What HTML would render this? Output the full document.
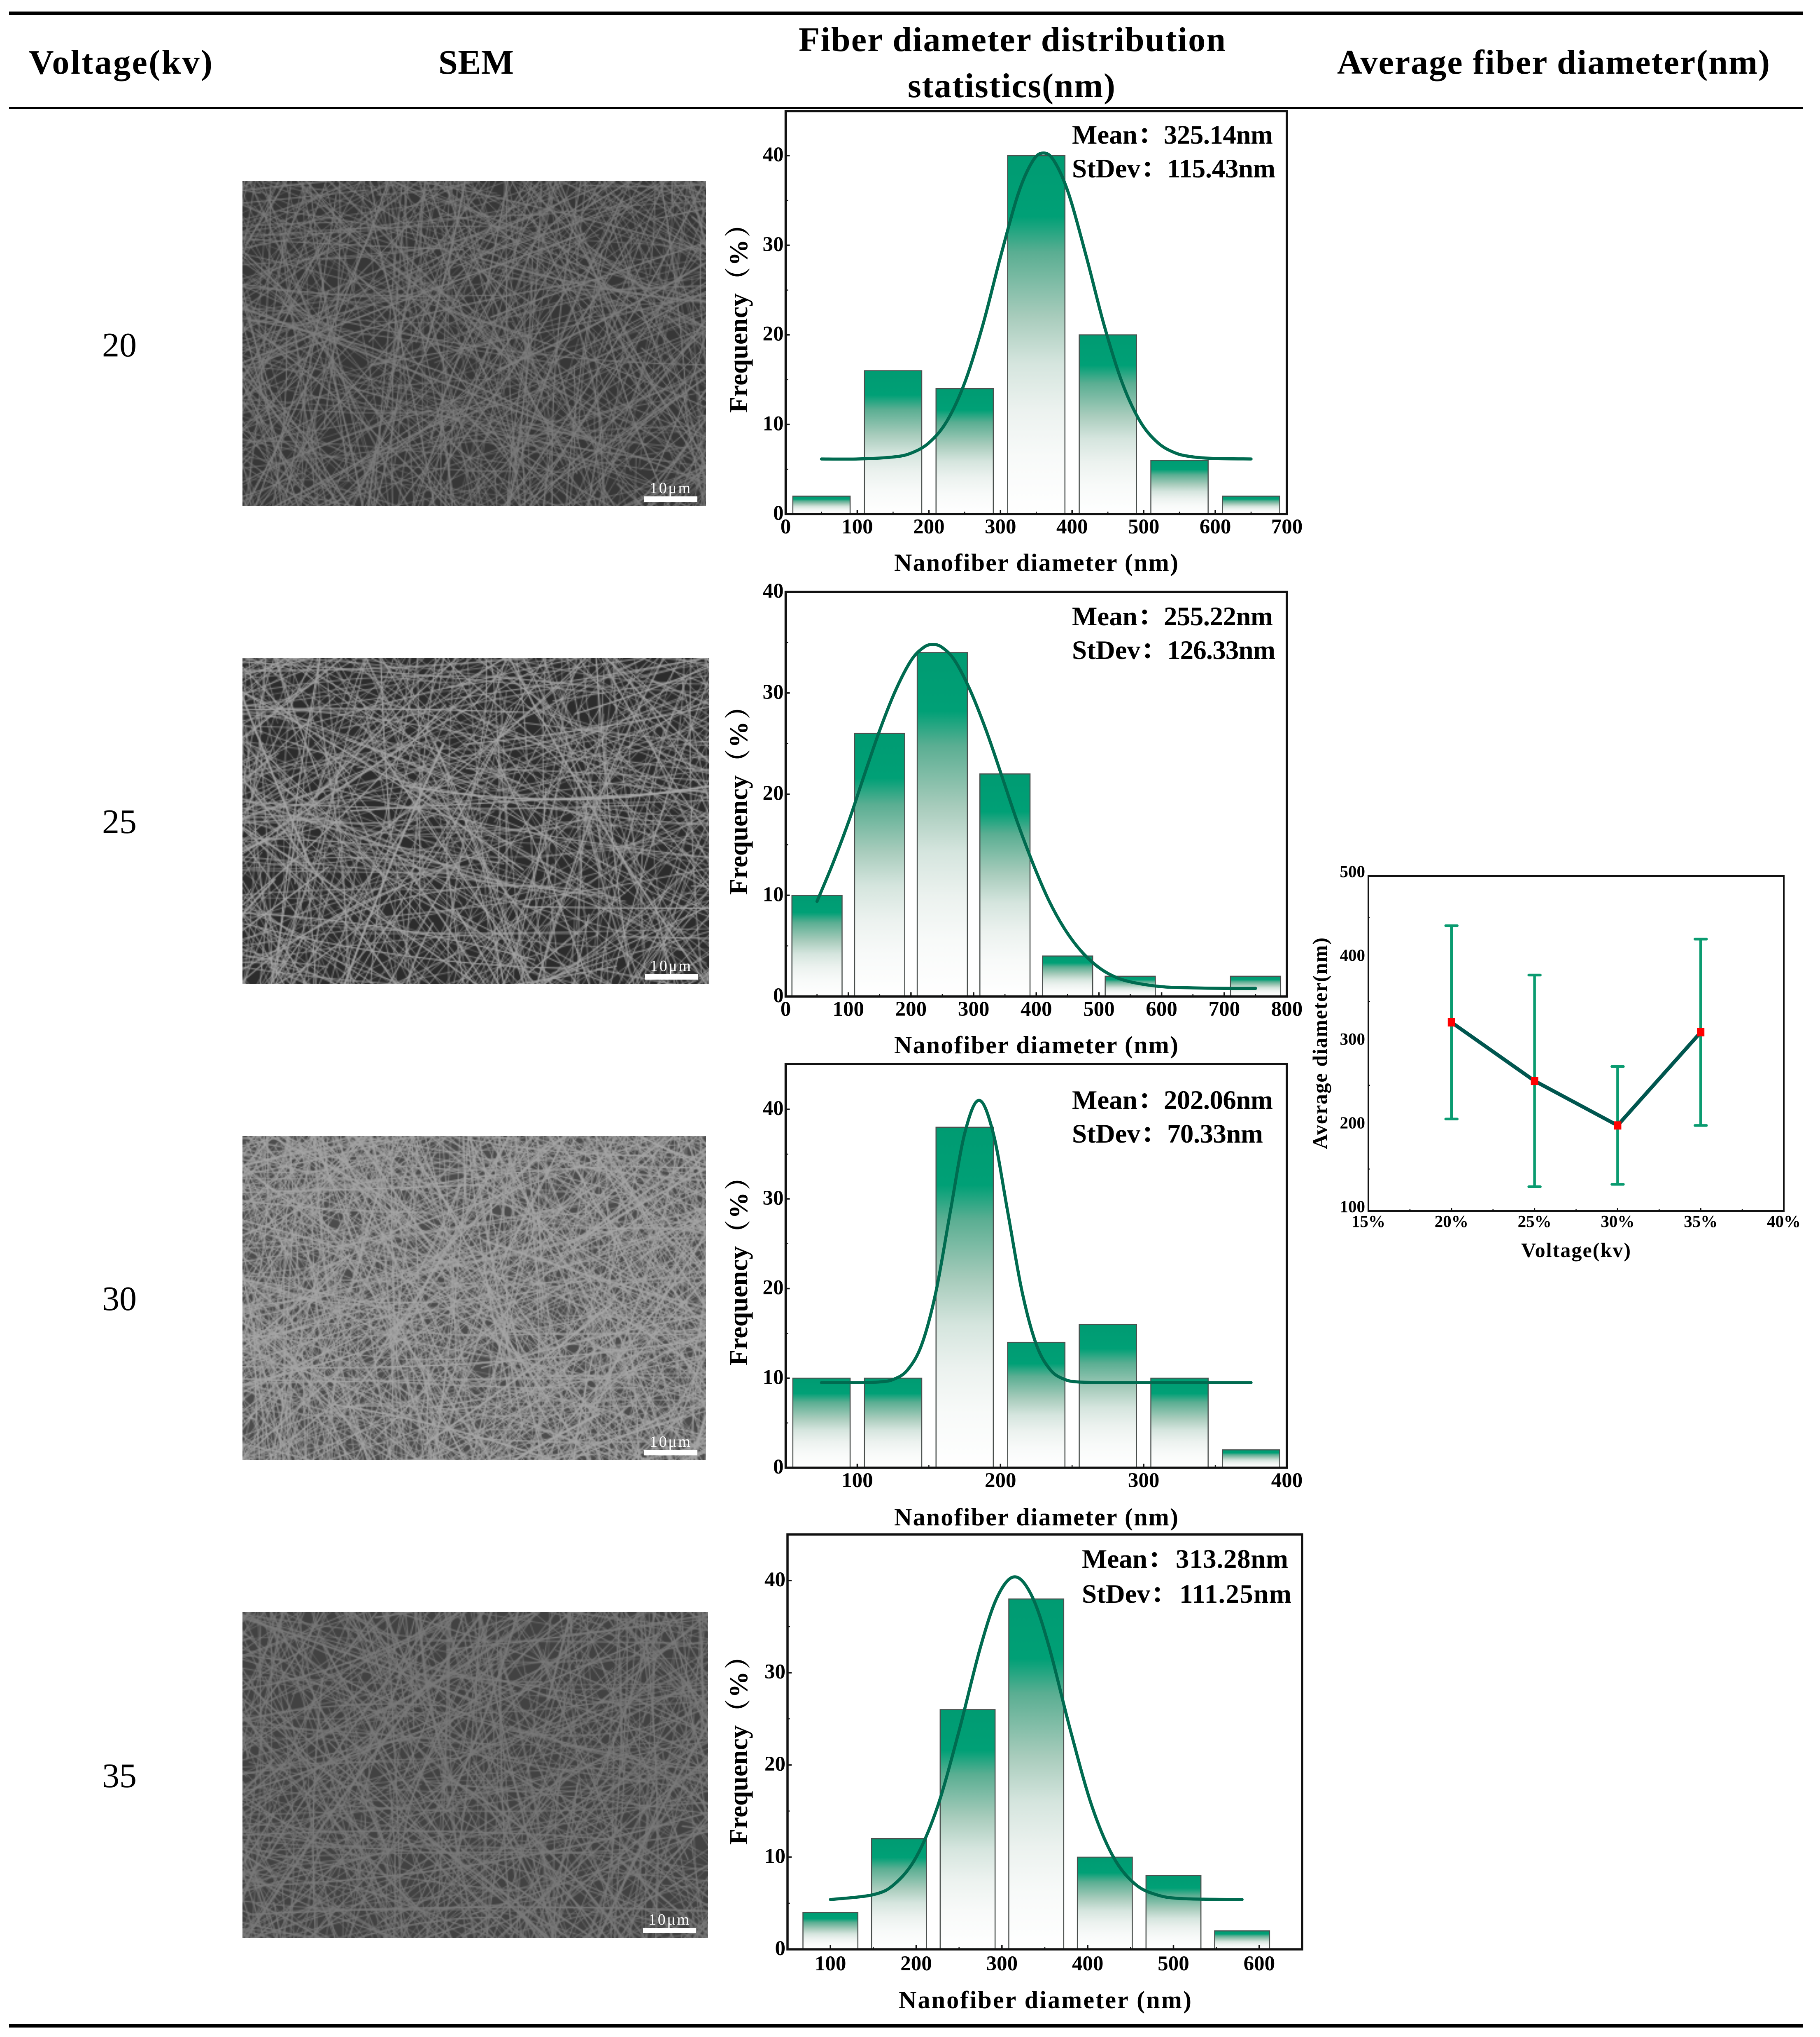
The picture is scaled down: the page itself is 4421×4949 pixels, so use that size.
<!DOCTYPE html>
<html lang="en">
<head>
<meta charset="utf-8">
<title>Fiber diameter statistics by voltage</title>
<style>
  html, body { margin: 0; padding: 0; background: #fff; }
  #page { position: relative; width: 4421px; height: 4949px; overflow: hidden; background: #fff; }
  canvas { position: absolute; display: block; }
  svg { position: absolute; left: 0; top: 0; }
  text { font-family: "Liberation Serif", "Noto Serif CJK SC", serif; }
  .b { font-weight: bold; fill: #000; }
  .tick { font-weight: bold; font-size: 51px; fill: #000; }
  .atitle { font-weight: bold; font-size: 60px; fill: #000; }
  .freq { font-weight: bold; font-size: 64px; fill: #000; }
  .stat { font-weight: bold; font-size: 65px; fill: #000; }
  .head { font-weight: bold; font-size: 84px; fill: #000; }
  .row { font-size: 84px; fill: #000; }
  .sb { font-size: 38px; fill: #fff; }
</style>
</head>
<body>
<div id="page">
  <canvas id="sem1" style="left:589px;top:440px;width:1126px;height:790px"></canvas>
  <canvas id="sem2" style="left:589px;top:1599px;width:1134px;height:792px"></canvas>
  <canvas id="sem3" style="left:589px;top:2760px;width:1126px;height:787px"></canvas>
  <canvas id="sem4" style="left:589px;top:3917px;width:1131px;height:791px"></canvas>

  <svg id="main" width="4421" height="4949" viewBox="0 0 4421 4949" xmlns="http://www.w3.org/2000/svg">
    <defs>
      <linearGradient id="barFill" x1="0" y1="0" x2="0" y2="1">
        <stop offset="0" stop-color="#009b72"/>
        <stop offset="0.17" stop-color="#00a076"/>
        <stop offset="0.27" stop-color="#5aae92"/>
        <stop offset="0.45" stop-color="#a8ccbc"/>
        <stop offset="0.58" stop-color="#d5e5de"/>
        <stop offset="0.71" stop-color="#ecf2ef"/>
        <stop offset="0.84" stop-color="#f8faf9"/>
        <stop offset="1" stop-color="#ffffff"/>
      </linearGradient>
    </defs>

    <rect x="22" y="28" width="4358" height="8" fill="#000"/>
    <rect x="22" y="260" width="4358" height="5" fill="#000"/>
    <rect x="22" y="4917" width="4358" height="9" fill="#000"/>

    <text class="head" x="70" y="179" textLength="446">Voltage(kv)</text>
    <text class="head" x="1065" y="179" textLength="183">SEM</text>
    <text class="head" x="1940" y="124" textLength="1037">Fiber diameter distribution</text>
    <text class="head" x="2205" y="236" textLength="504">statistics(nm)</text>
    <text class="head" x="3248" y="179" textLength="1051">Average fiber diameter(nm)</text>

    <text class="row" x="290" y="866" text-anchor="middle">20</text>
    <text class="row" x="290" y="2024" text-anchor="middle">25</text>
    <text class="row" x="290" y="3183" text-anchor="middle">30</text>
    <text class="row" x="290" y="4342" text-anchor="middle">35</text>

    <rect x="1565" y="1206" width="129" height="13" fill="#fff"/>
    <text class="sb" x="1578" y="1198" textLength="99">10μm</text>
    <rect x="1566" y="2367" width="129" height="13" fill="#fff"/>
    <text class="sb" x="1579" y="2359" textLength="99">10μm</text>
    <rect x="1565" y="3523" width="129" height="13" fill="#fff"/>
    <text class="sb" x="1578" y="3515" textLength="99">10μm</text>
    <rect x="1562" y="4684" width="129" height="13" fill="#fff"/>
    <text class="sb" x="1575" y="4676" textLength="99">10μm</text>

    <text class="stat" x="2604" y="349">Mean：</text>
    <text class="stat" x="2827" y="349" textLength="265">325.14nm</text>
    <text class="stat" x="2604" y="431">StDev：</text>
    <text class="stat" x="2835" y="431" textLength="263">115.43nm</text>

    <text class="stat" x="2604" y="1519">Mean：</text>
    <text class="stat" x="2827" y="1519" textLength="265">255.22nm</text>
    <text class="stat" x="2604" y="1601">StDev：</text>
    <text class="stat" x="2835" y="1601" textLength="263">126.33nm</text>

    <text class="stat" x="2604" y="2694">Mean：</text>
    <text class="stat" x="2827" y="2694" textLength="265">202.06nm</text>
    <text class="stat" x="2604" y="2776">StDev：</text>
    <text class="stat" x="2835" y="2776" textLength="233">70.33nm</text>

    <text class="stat" x="2628" y="3809">Mean：</text>
    <text class="stat" x="2856" y="3809" textLength="273">313.28nm</text>
    <text class="stat" x="2628" y="3894">StDev：</text>
    <text class="stat" x="2865" y="3894" textLength="272">111.25nm</text>

    <text class="atitle" x="2172" y="1387" textLength="690">Nanofiber diameter (nm)</text>
    <text class="atitle" x="2172" y="2559" textLength="690">Nanofiber diameter (nm)</text>
    <text class="atitle" x="2172" y="3706" textLength="690">Nanofiber diameter (nm)</text>
    <text class="atitle" x="2183" y="4879" textLength="711">Nanofiber diameter (nm)</text>

    <text class="freq" transform="translate(1815 1003) rotate(-90)">Frequency（<tspan dx="3">%</tspan><tspan dx="5">）</tspan></text>
    <text class="freq" transform="translate(1815 2174) rotate(-90)">Frequency（<tspan dx="3">%</tspan><tspan dx="5">）</tspan></text>
    <text class="freq" transform="translate(1815 3318) rotate(-90)">Frequency（<tspan dx="3">%</tspan><tspan dx="5">）</tspan></text>
    <text class="freq" transform="translate(1815 4482) rotate(-90)">Frequency（<tspan dx="3">%</tspan><tspan dx="5">）</tspan></text>

    <text class="b" x="3695" y="3054" font-size="50" textLength="266">Voltage(kv)</text>
    <text class="b" font-size="50" textLength="514" transform="translate(3223 2792) rotate(-90)">Average diameter(nm)</text>
  </svg>
</div>

<script>
/* ---------- histogram data ---------- */
const hist20Centers = [50, 150, 250, 350, 450, 550, 650];
const hist20Values = [2, 16, 14, 40, 20, 6, 2];
const hist20CurveX = [50, 100, 150, 175, 200, 225, 250, 275, 300, 325, 345, 360, 375, 395, 420, 445, 470, 495, 520, 545, 570, 600, 650];
const hist20CurveY = [6.15, 6.15, 6.37, 6.8, 7.95, 10.35, 14.65, 21, 28.7, 35.8, 39.4, 40.3, 39.4, 35.8, 28.7, 21, 14.65, 10.35, 7.95, 6.8, 6.37, 6.2, 6.15];
const hist20XTicks = [0, 100, 200, 300, 400, 500, 600, 700];
const hist20YTicks = [0, 10, 20, 30, 40];

const hist25Centers = [50, 150, 250, 350, 450, 550, 750];
const hist25Values = [10, 26, 34, 22, 4, 2, 2];
const hist25CurveX = [50, 75, 100, 125, 150, 175, 200, 220, 235, 250, 270, 295, 320, 345, 370, 395, 420, 445, 470, 495, 520, 550, 600, 650, 700, 750];
const hist25CurveY = [9.4, 13.1, 17.2, 21.8, 26.3, 30.2, 33.2, 34.5, 34.8, 34.5, 33.2, 30.2, 26.3, 21.8, 17.2, 13.1, 9.5, 6.7, 4.6, 3.1, 2.1, 1.45, 0.97, 0.85, 0.8, 0.8];
const hist25XTicks = [0, 100, 200, 300, 400, 500, 600, 700, 800];
const hist25YTicks = [0, 10, 20, 30, 40];

const hist30Centers = [75, 125, 175, 225, 275, 325, 375];
const hist30Values = [10, 10, 38, 14, 16, 10, 2];
const hist30CurveX = [75, 100, 115, 125, 135, 145, 155, 165, 175, 185, 195, 205, 215, 225, 235, 245, 255, 275, 325, 375];
const hist30CurveY = [9.5, 9.5, 9.57, 9.85, 10.9, 13.75, 19.7, 28.6, 37.3, 41, 37.3, 28.6, 19.7, 13.75, 10.9, 9.85, 9.57, 9.5, 9.5, 9.5];
const hist30XTicks = [100, 200, 300, 400];
const hist30YTicks = [0, 10, 20, 30, 40];

const hist35Centers = [100, 180, 260, 340, 420, 500, 580];
const hist35Values = [4, 12, 26, 38, 10, 8, 2];
const hist35CurveX = [100, 150, 175, 200, 225, 250, 275, 295, 315, 335, 355, 380, 405, 430, 455, 480, 510, 580];
const hist35CurveY = [5.4, 5.93, 7.1, 10, 15.5, 23.7, 32.8, 38.3, 40.4, 38.3, 32.8, 23.7, 15.5, 10, 7.1, 5.93, 5.5, 5.4];
const hist35XTicks = [100, 200, 300, 400, 500, 600];
const hist35YTicks = [0, 10, 20, 30, 40];

/* ---------- average-diameter chart data ---------- */
const avgVoltages = [20, 25, 30, 35];
const avgMeans = [325.14, 255.22, 202.06, 313.28];
const avgUpper = [440.57, 381.55, 272.39, 424.53];
const avgLower = [209.71, 128.89, 131.73, 202.03];
const avgXTicks = [15, 20, 25, 30, 35, 40];
const avgXTickLabels = ['15%', '20%', '25%', '30%', '35%', '40%'];
const avgYTicks = [100, 200, 300, 400, 500];

const NS = 'http://www.w3.org/2000/svg';
const root = document.getElementById('main');

function mk(tag, attrs, parent) {
  const el = document.createElementNS(NS, tag);
  for (const k in attrs) el.setAttribute(k, attrs[k]);
  (parent || root).appendChild(el);
  return el;
}

function linear(d0, d1, r0, r1) {
  return function (v) { return r0 + (v - d0) / (d1 - d0) * (r1 - r0); };
}

function smoothPath(px, py) {
  let d = 'M' + px[0].toFixed(1) + ' ' + py[0].toFixed(1);
  for (let i = 0; i < px.length - 1; i++) {
    const x0 = px[Math.max(i - 1, 0)], y0 = py[Math.max(i - 1, 0)];
    const x1 = px[i], y1 = py[i], x2 = px[i + 1], y2 = py[i + 1];
    const x3 = px[Math.min(i + 2, px.length - 1)], y3 = py[Math.min(i + 2, px.length - 1)];
    d += 'C' + (x1 + (x2 - x0) / 6).toFixed(1) + ' ' + (y1 + (y2 - y0) / 6).toFixed(1) + ' ' +
         (x2 - (x3 - x1) / 6).toFixed(1) + ' ' + (y2 - (y3 - y1) / 6).toFixed(1) + ' ' +
         x2.toFixed(1) + ' ' + y2.toFixed(1);
  }
  return d;
}

function drawHistogram(cfg) {
  const g = mk('g', {});
  
  
  const xScale = linear(cfg.xMin, cfg.xMax, cfg.left, cfg.right);
  const yScale = linear(0, cfg.yMax, cfg.bottom, cfg.top);

  cfg.centers.forEach(function (c, i) {
    const x0 = xScale(c - cfg.barWidth / 2), x1 = xScale(c + cfg.barWidth / 2);
    const yTop = yScale(cfg.values[i]);
    const bar = mk('rect', { x: x0, y: yTop, width: x1 - x0, height: cfg.bottom - yTop, fill: 'url(#barFill)', stroke: '#4a4f4d', 'stroke-width': 2.5 }, g);
    
    
  });

  const curve = mk('path', {
    d: smoothPath(cfg.curveX.map(xScale), cfg.curveY.map(yScale)),
    fill: 'none', stroke: '#006b50', 'stroke-width': 7.5, 'stroke-linecap': 'round', 'stroke-linejoin': 'round'
  }, g);
  
  

  const frame = mk('rect', { x: cfg.left, y: cfg.top, width: cfg.right - cfg.left, height: cfg.bottom - cfg.top, fill: 'none', stroke: '#111', 'stroke-width': 5.5 }, g);
  
  

  cfg.xTicks.forEach(function (t, i) {
    const x = xScale(t);
    const tick = mk('line', { x1: x, x2: x, y1: cfg.bottom, y2: cfg.bottom - 10, stroke: '#111', 'stroke-width': 3.5 }, g);
    
    
    const label = mk('text', { x: x, y: cfg.bottom + cfg.xLabelGap, 'text-anchor': 'middle', class: 'tick' }, g);
    
    
    label.textContent = t;
    if (i < cfg.xTicks.length - 1) {
      const mx = xScale((t + cfg.xTicks[i + 1]) / 2);
      const minor = mk('line', { x1: mx, x2: mx, y1: cfg.bottom, y2: cfg.bottom - 6, stroke: '#111', 'stroke-width': 2.5 }, g);
      
      
    }
  });

  cfg.yTicks.forEach(function (t, i) {
    const y = yScale(t);
    const tick = mk('line', { x1: cfg.left, x2: cfg.left + 10, y1: y, y2: y, stroke: '#111', 'stroke-width': 3.5 }, g);
    
    
    const label = mk('text', { x: cfg.left - 5, y: y + 14, 'text-anchor': 'end', class: 'tick' }, g);
    
    
    label.textContent = t;
    if (i < cfg.yTicks.length - 1) {
      const my = yScale((t + cfg.yTicks[i + 1]) / 2);
      const minor = mk('line', { x1: cfg.left, x2: cfg.left + 6, y1: my, y2: my, stroke: '#111', 'stroke-width': 2.5 }, g);
      
      
    }
  });
}

drawHistogram({ id: '20kv', left: 1908.5, right: 3126, top: 270, bottom: 1249, xMin: 0, xMax: 700, yMax: 44.97, barWidth: 80, xLabelGap: 47,
  centers: hist20Centers, values: hist20Values, curveX: hist20CurveX, curveY: hist20CurveY, xTicks: hist20XTicks, yTicks: hist20YTicks });
drawHistogram({ id: '25kv', left: 1908.5, right: 3126, top: 1438, bottom: 2421, xMin: 0, xMax: 800, yMax: 40, barWidth: 80, xLabelGap: 47,
  centers: hist25Centers, values: hist25Values, curveX: hist25CurveX, curveY: hist25CurveY, xTicks: hist25XTicks, yTicks: hist25YTicks });
drawHistogram({ id: '30kv', left: 1908.5, right: 3126, top: 2585, bottom: 3566, xMin: 50, xMax: 400, yMax: 45.06, barWidth: 40, xLabelGap: 47,
  centers: hist30Centers, values: hist30Values, curveX: hist30CurveX, curveY: hist30CurveY, xTicks: hist30XTicks, yTicks: hist30YTicks });
drawHistogram({ id: '35kv', left: 1913, right: 3163, top: 3728, bottom: 4736, xMin: 50, xMax: 650, yMax: 45, barWidth: 64, xLabelGap: 51,
  centers: hist35Centers, values: hist35Values, curveX: hist35CurveX, curveY: hist35CurveY, xTicks: hist35XTicks, yTicks: hist35YTicks });

/* ---------- average diameter chart ---------- */
(function () {
  const left = 3324, right = 4333, top = 2128, bottom = 2942;
  const g = mk('g', {});
  
  
  const xScale = linear(15, 40, left, right);
  const yScale = linear(100, 500, bottom, top);

  const frame = mk('rect', { x: left, y: top, width: right - left, height: bottom - top, fill: '#fff', stroke: '#111', 'stroke-width': 4 }, g);
  
  

  avgVoltages.forEach(function (v, i) {
    const x = xScale(v);
    const stem = mk('line', { x1: x, x2: x, y1: yScale(avgUpper[i]), y2: yScale(avgLower[i]), stroke: '#0a9b70', 'stroke-width': 6.5 }, g);
    
    
    const capU = mk('line', { x1: x - 14, x2: x + 14, y1: yScale(avgUpper[i]), y2: yScale(avgUpper[i]), stroke: '#0a9b70', 'stroke-width': 6.5, 'stroke-linecap': 'round' }, g);
    
    
    const capL = mk('line', { x1: x - 14, x2: x + 14, y1: yScale(avgLower[i]), y2: yScale(avgLower[i]), stroke: '#0a9b70', 'stroke-width': 6.5, 'stroke-linecap': 'round' }, g);
    
    
  });

  const pts = avgVoltages.map(function (v, i) { return xScale(v) + ',' + yScale(avgMeans[i]); }).join(' ');
  const line = mk('polyline', { points: pts, fill: 'none', stroke: '#00564f', 'stroke-width': 9, 'stroke-linejoin': 'round' }, g);
  
  

  avgVoltages.forEach(function (v, i) {
    const marker = mk('rect', { x: xScale(v) - 9, y: yScale(avgMeans[i]) - 10, width: 18, height: 20, fill: '#ff0000' }, g);
    
    
  });

  avgXTicks.forEach(function (t, i) {
    const x = xScale(t);
    const tick = mk('line', { x1: x, x2: x, y1: bottom, y2: bottom - 7, stroke: '#111', 'stroke-width': 3 }, g);
    
    
    const label = mk('text', { x: x, y: 2981, 'text-anchor': 'middle', class: 'b', 'font-size': 41 }, g);
    
    
    label.textContent = avgXTickLabels[i];
    if (i < avgXTicks.length - 1) {
      const mx = xScale((t + avgXTicks[i + 1]) / 2);
      const minor = mk('line', { x1: mx, x2: mx, y1: bottom, y2: bottom - 4, stroke: '#111', 'stroke-width': 2.5 }, g);
      
      
    }
  });

  avgYTicks.forEach(function (t, i) {
    const y = yScale(t);
    const label = mk('text', { x: 3316, y: y + 3, 'text-anchor': 'end', class: 'b', 'font-size': 41 }, g);
    
    
    label.textContent = t;
    if (i < avgYTicks.length - 1) {
      const my = yScale((t + avgYTicks[i + 1]) / 2);
      const minor = mk('line', { x1: left, x2: left + 4, y1: my, y2: my, stroke: '#111', 'stroke-width': 2.5 }, g);
      
      
    }
  });
})();

/* ---------- SEM micrograph textures (decorative, procedurally drawn) ---------- */
function drawSem(id, seed, bg, fiber, count, widthBase) {
  const cv = document.getElementById(id);
  const W = Math.round(parseFloat(cv.style.width) / 3);
  const H = Math.round(parseFloat(cv.style.height) / 3);
  cv.width = W;
  cv.height = H;
  const ctx = cv.getContext('2d');
  let s = seed >>> 0;
  function rnd() {
    s = (s + 0x6D2B79F5) >>> 0;
    let t = s;
    t = Math.imul(t ^ (t >>> 15), t | 1);
    t ^= t + Math.imul(t ^ (t >>> 7), t | 61);
    return ((t ^ (t >>> 14)) >>> 0) / 4294967296;
  }
  ctx.fillStyle = bg;
  ctx.fillRect(0, 0, W, H);
  ctx.lineCap = 'round';
  for (let i = 0; i < count; i++) {
    const a = rnd() * Math.PI;
    const cx = (((i * 0.7548777 + 0.13) % 1) * 1.9 - 0.45) * W;
    const cy = (((i * 0.5698403 + 0.41) % 1) * 1.9 - 0.45) * H;
    const L = 160 + rnd() * 340;
    const dx = Math.cos(a) * L / 2, dy = Math.sin(a) * L / 2;
    const bend = (rnd() - 0.5) * 140;
    ctx.strokeStyle = fiber;
    ctx.globalAlpha = 0.55 + rnd() * 0.45;
    ctx.lineWidth = widthBase * (0.65 + rnd() * (rnd() < 0.08 ? 1.3 : 0.55));
    ctx.beginPath();
    ctx.moveTo(cx - dx, cy - dy);
    ctx.quadraticCurveTo(cx - dy / L * bend, cy + dx / L * bend, cx + dx, cy + dy);
    ctx.stroke();
  }
  ctx.globalAlpha = 1;
}
drawSem('sem1', 11, '#373737', '#7e7e7e', 1080, 0.95);
drawSem('sem2', 29, '#2c2c2c', '#a6a6a6', 1050, 0.9);
drawSem('sem3', 47, '#4c4c4c', '#a6a6a6', 1700, 0.95);
drawSem('sem4', 83, '#424242', '#7a7a7a', 1100, 1.1);
</script>
</body>
</html>
